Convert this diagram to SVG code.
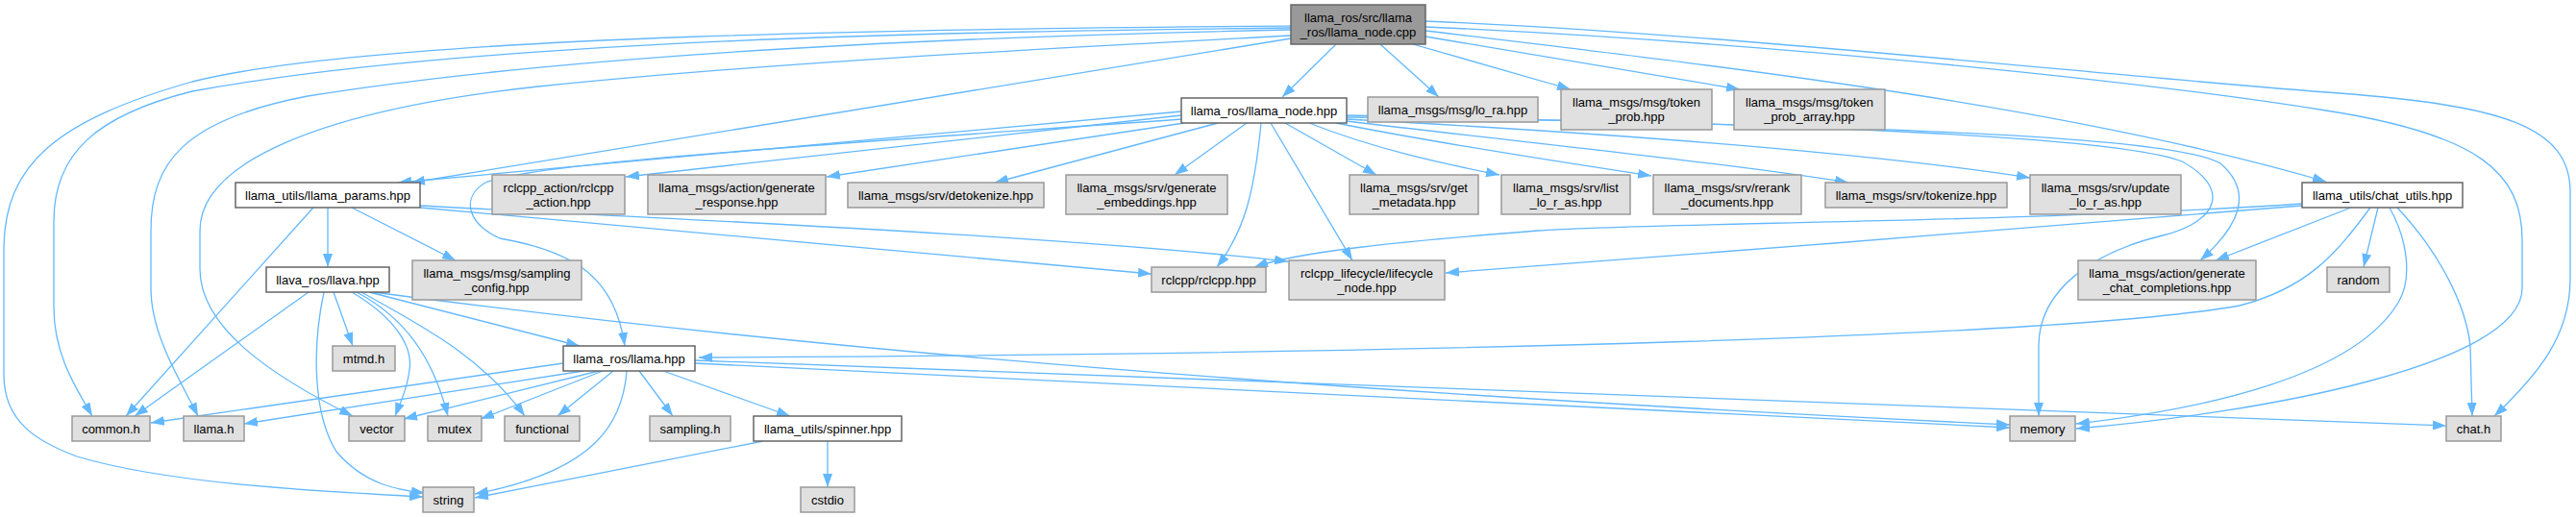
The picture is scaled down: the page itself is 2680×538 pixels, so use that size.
<svg xmlns="http://www.w3.org/2000/svg" width="2680" height="538" viewBox="0 0 2680 538">
<defs>
<marker id="a" markerUnits="userSpaceOnUse" markerWidth="14" markerHeight="10" refX="14" refY="5" orient="auto">
<path d="M0,0 L14,5 L0,10 z" fill="#63b8ff"/>
</marker>
<style>
.e path{fill:none;stroke:#63b8ff;stroke-width:1.3;marker-end:url(#a)}
.g rect{fill:#e0e0e0;stroke:#999999;stroke-width:1.5}
.w rect{fill:#ffffff;stroke:#666666;stroke-width:1.5}
.r rect{fill:#999999;stroke:#666666;stroke-width:1.5}
text{font-family:"Liberation Sans",Arial,Helvetica,sans-serif;font-size:13px;text-anchor:middle;fill:#000000}
</style>
</defs>
<rect width="2680" height="538" fill="#ffffff"/>
<g id="connectors" class="e">
<!-- root -->
<path d="M1390,46 L1334,101"/>
<path d="M1436,46 L1497,101"/>
<path d="M1470,46 L1634,93"/>
<path d="M1483,38 L1810,93"/>
<path d="M1483,32 C1800,70 2150,110 2420,189"/>
<path d="M1483,28 C1800,42 2200,80 2420,115 C2580,140 2624,180 2624,250 L2624,300 C2624,380 2350,430 2160,446"/>
<path d="M1483,22 C1800,35 2200,80 2434,97 C2600,110 2674,130 2674,200 L2674,290 C2674,350 2640,390 2595,433"/>
<path d="M1343,40 L428,190"/>
<path d="M1343,27 C1000,30 400,35 200,85 C60,125 4,170 4,260 L4,390 C4,440 40,460 80,475 C180,505 350,512 440,517"/>
<path d="M1343,29 C1000,33 500,40 200,95 C100,120 56,160 56,230 L56,320 C56,370 80,405 96,433"/>
<path d="M1343,31 C1000,38 600,55 320,100 C190,125 157,170 157,240 L157,300 C157,350 190,400 206,433"/>
<path d="M1343,37 C1100,50 800,65 560,90 C330,115 208,170 208,240 L208,280 C208,340 280,390 367,433"/>
<!-- llama_node.hpp -->
<path d="M1229,116 L414,190"/>
<path d="M1229,120 L651,184"/>
<path d="M1232,128 L860,184"/>
<path d="M1267,128 L1035,190"/>
<path d="M1297,128 L1222,182"/>
<path d="M1312,128 C1305,200 1295,240 1266,278"/>
<path d="M1322,128 L1407,271"/>
<path d="M1337,128 L1432,182"/>
<path d="M1362,128 C1430,155 1500,170 1560,182"/>
<path d="M1390,128 C1500,150 1620,168 1718,183"/>
<path d="M1401,126 C1600,150 1800,170 1923,190"/>
<path d="M1401,124 C1700,140 1950,160 2112,185"/>
<path d="M1401,120 C1800,130 2250,135 2310,170 C2345,200 2330,235 2289,271"/>
<path d="M1401,122 C1800,126 2200,140 2270,168 C2320,195 2310,230 2250,245 C2180,262 2121,300 2121,360 L2121,433"/>
<path d="M1229,124 C900,148 560,168 505,190 C480,205 485,232 520,248 C600,262 640,290 650,360"/>
<!-- llama_params.hpp -->
<path d="M326,216 L131,433"/>
<path d="M341,216 L341,278"/>
<path d="M366,216 L474,271"/>
<path d="M437,216 L1198,285"/>
<path d="M437,214 C700,228 1100,245 1340,272"/>
<!-- llava.hpp -->
<path d="M321,304 L140,433"/>
<path d="M337,304 C325,360 325,430 350,470 C380,505 415,510 442,513"/>
<path d="M347,304 L367,360"/>
<path d="M366,304 C410,330 430,360 426,385 C424,405 416,420 411,433"/>
<path d="M371,304 C420,330 450,370 466,433"/>
<path d="M376,304 C440,340 500,370 546,433"/>
<path d="M384,304 L603,360"/>
<path d="M388,304 C700,345 1200,400 2091,442"/>
<!-- llama.hpp -->
<path d="M586,378 L157,440"/>
<path d="M607,386 L254,441"/>
<path d="M623,386 L420,436"/>
<path d="M627,386 L500,436"/>
<path d="M638,386 L580,433"/>
<path d="M652,386 C648,440 620,490 494,514"/>
<path d="M665,386 L700,433"/>
<path d="M690,386 L822,433"/>
<path d="M723,378 L2091,445"/>
<path d="M723,375 L2545,443"/>
<!-- spinner -->
<path d="M794,459 L494,518"/>
<path d="M861,459 L861,507"/>
<!-- chat_utils -->
<path d="M2446,216 L2305,271"/>
<path d="M2474,216 L2459,278"/>
<path d="M2486,216 C2505,250 2510,290 2495,315 C2450,390 2300,425 2160,441"/>
<path d="M2494,216 C2540,265 2566,320 2570,360 L2572,433"/>
<path d="M2466,216 C2430,265 2400,300 2330,318 C2150,350 1500,368 727,372"/>
<path d="M2395,212 C2100,232 1700,232 1600,240 C1450,252 1350,262 1305,278"/>
<path d="M2395,214 C2100,238 1800,262 1504,284"/>
</g>
<g id="n_root" class="r"><rect x="1343" y="5" width="140" height="41"/><text x="1413" y="23">llama_ros/src/llama</text><text x="1413" y="38">_ros/llama_node.cpp</text></g>
<g id="n_llama_node_hpp" class="w"><rect x="1229" y="102" width="172" height="26"/><text x="1315" y="120">llama_ros/llama_node.hpp</text></g>
<g id="n_lo_ra" class="g"><rect x="1423" y="101" width="177" height="26"/><text x="1511.5" y="119">llama_msgs/msg/lo_ra.hpp</text></g>
<g id="n_token_prob" class="g"><rect x="1624" y="93" width="157" height="42"/><text x="1702.5" y="111">llama_msgs/msg/token</text><text x="1702.5" y="126">_prob.hpp</text></g>
<g id="n_token_prob_array" class="g"><rect x="1804" y="93" width="157" height="42"/><text x="1882.5" y="111">llama_msgs/msg/token</text><text x="1882.5" y="126">_prob_array.hpp</text></g>
<g id="n_llama_params" class="w"><rect x="245" y="190" width="192" height="26"/><text x="341" y="208">llama_utils/llama_params.hpp</text></g>
<g id="n_rclcpp_action" class="g"><rect x="512" y="182" width="138" height="41"/><text x="581" y="200">rclcpp_action/rclcpp</text><text x="581" y="215">_action.hpp</text></g>
<g id="n_generate_response" class="g"><rect x="674" y="182" width="185" height="41"/><text x="766.5" y="200">llama_msgs/action/generate</text><text x="766.5" y="215">_response.hpp</text></g>
<g id="n_detokenize" class="g"><rect x="882" y="190" width="204" height="26"/><text x="984" y="208">llama_msgs/srv/detokenize.hpp</text></g>
<g id="n_generate_embeddings" class="g"><rect x="1109" y="182" width="168" height="41"/><text x="1193" y="200">llama_msgs/srv/generate</text><text x="1193" y="215">_embeddings.hpp</text></g>
<g id="n_get_metadata" class="g"><rect x="1404" y="182" width="134" height="41"/><text x="1471" y="200">llama_msgs/srv/get</text><text x="1471" y="215">_metadata.hpp</text></g>
<g id="n_list_lo_r_as" class="g"><rect x="1562" y="182" width="134" height="41"/><text x="1629" y="200">llama_msgs/srv/list</text><text x="1629" y="215">_lo_r_as.hpp</text></g>
<g id="n_rerank" class="g"><rect x="1720" y="182" width="154" height="41"/><text x="1797" y="200">llama_msgs/srv/rerank</text><text x="1797" y="215">_documents.hpp</text></g>
<g id="n_tokenize" class="g"><rect x="1899" y="190" width="189" height="26"/><text x="1993.5" y="208">llama_msgs/srv/tokenize.hpp</text></g>
<g id="n_update_lo_r_as" class="g"><rect x="2112" y="182" width="157" height="41"/><text x="2190.5" y="200">llama_msgs/srv/update</text><text x="2190.5" y="215">_lo_r_as.hpp</text></g>
<g id="n_chat_utils" class="w"><rect x="2395" y="190" width="167" height="26"/><text x="2478.5" y="208">llama_utils/chat_utils.hpp</text></g>
<g id="n_llava" class="w"><rect x="277" y="278" width="128" height="26"/><text x="341" y="296">llava_ros/llava.hpp</text></g>
<g id="n_sampling_config" class="g"><rect x="429" y="271" width="176" height="41"/><text x="517" y="289">llama_msgs/msg/sampling</text><text x="517" y="304">_config.hpp</text></g>
<g id="n_rclcpp" class="g"><rect x="1198" y="278" width="119" height="26"/><text x="1257.5" y="296">rclcpp/rclcpp.hpp</text></g>
<g id="n_lifecycle" class="g"><rect x="1341" y="271" width="162" height="41"/><text x="1422" y="289">rclcpp_lifecycle/lifecycle</text><text x="1422" y="304">_node.hpp</text></g>
<g id="n_gen_chat" class="g"><rect x="2162" y="271" width="185" height="41"/><text x="2254.5" y="289">llama_msgs/action/generate</text><text x="2254.5" y="304">_chat_completions.hpp</text></g>
<g id="n_random" class="g"><rect x="2421" y="278" width="65" height="26"/><text x="2453.5" y="296">random</text></g>
<g id="n_mtmd" class="g"><rect x="346" y="360" width="65" height="26"/><text x="378.5" y="378">mtmd.h</text></g>
<g id="n_llama_hpp" class="w"><rect x="586" y="360" width="137" height="26"/><text x="654.5" y="378">llama_ros/llama.hpp</text></g>
<g id="n_common" class="g"><rect x="75" y="433" width="81" height="26"/><text x="115.5" y="451">common.h</text></g>
<g id="n_llama_h" class="g"><rect x="191" y="433" width="63" height="26"/><text x="222.5" y="451">llama.h</text></g>
<g id="n_vector" class="g"><rect x="363" y="433" width="58" height="26"/><text x="392" y="451">vector</text></g>
<g id="n_mutex" class="g"><rect x="445" y="433" width="56" height="26"/><text x="473" y="451">mutex</text></g>
<g id="n_functional" class="g"><rect x="525" y="433" width="78" height="26"/><text x="564" y="451">functional</text></g>
<g id="n_sampling_h" class="g"><rect x="676" y="433" width="84" height="26"/><text x="718" y="451">sampling.h</text></g>
<g id="n_spinner" class="w"><rect x="784" y="433" width="154" height="26"/><text x="861" y="451">llama_utils/spinner.hpp</text></g>
<g id="n_memory" class="g"><rect x="2091" y="433" width="68" height="26"/><text x="2125" y="451">memory</text></g>
<g id="n_chat_h" class="g"><rect x="2545" y="433" width="57" height="26"/><text x="2573.5" y="451">chat.h</text></g>
<g id="n_string" class="g"><rect x="440" y="507" width="53" height="26"/><text x="466.5" y="525">string</text></g>
<g id="n_cstdio" class="g"><rect x="833" y="507" width="56" height="26"/><text x="861" y="525">cstdio</text></g>
</svg>
